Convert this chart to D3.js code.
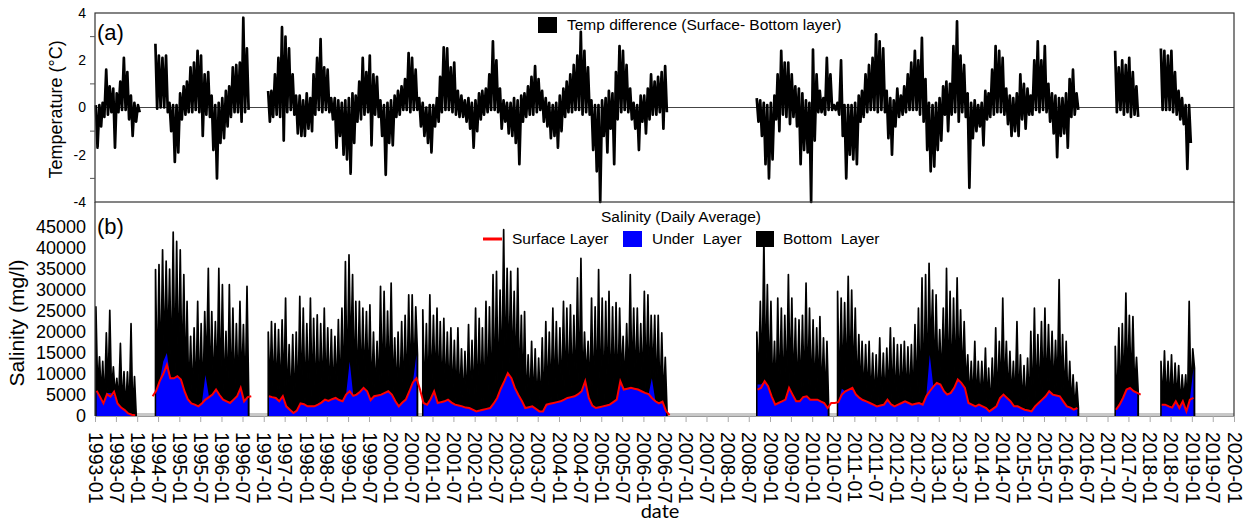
<!DOCTYPE html>
<html>
<head>
<meta charset="utf-8">
<script src="https://cdn.jsdelivr.net/npm/d3@7/dist/d3.min.js"></script>
<style>
  body { margin: 0; background: #fff; }
  text { font-family: "Liberation Sans", Arial, sans-serif; fill: #000; }
</style>
</head>
<body>
<div id="chart"></div>
<script>
// monthly values, index 0 = 1993-01 ... 312 = 2019-01 (null = no record)
// temp difference surface - bottom: monthly highest and lowest daily value (°C)
const tempHi = [
  0.1, 0.1, 0.2, 1.6, 0.9, 0.8, 0.6, 1.1, 2.1, 1.5, 0.5, 0.2, // 1993
  0.1, null, null, null, null, 2.7, 2.2, 2.1, 2.2, 0.2, 0.1, 0.1, // 1994
  0.6, 0.9, 1.1, 1.7, 1.9, 2.4, 2.2, 1.4, 1.5, 0.5, 0.1, 0.2, // 1995
  0.4, 0.7, 0.9, 1.7, 1.8, 1.9, 3.8, 2.5, null, null, null, null, // 1996
  null, 0.7, 0.7, 1.4, 2.1, 3.4, 3.0, 2.5, 1.4, 0.5, 0.5, 0.3, // 1997
  0.6, 0.4, 1.4, 2.1, 2.9, 1.7, 1.6, 0.4, 0.4, 0.3, 0.2, 0.3, // 1998
  0.4, 0.6, 0.5, 1.1, 2.1, 1.5, 2.2, 1.4, 1.3, 0.3, 0.1, 0.2, // 1999
  0.3, 0.5, 0.7, 0.9, 1.2, 2.3, 2.1, 1.6, 0.4, 0.2, 0.0, 0.1, // 2000
  0.1, 0.4, 1.3, 2.55, 2.5, 1.7, 1.9, 0.7, 0.5, 0.3, 0.4, 0.2, // 2001
  0.3, 0.6, 0.7, 0.8, 1.4, 2.8, 2.0, 0.8, 0.3, 0.2, 0.2, 0.4, // 2002
  0.3, 0.5, 0.6, 0.9, 1.3, 1.75, 1.2, 0.7, 0.4, 0.2, 0.1, 0.2, // 2003
  0.5, 0.8, 1.1, 1.4, 1.8, 2.2, 3.2, 2.4, 1.7, 0.3, 0.1, 0.1, // 2004
  0.3, 0.4, 0.7, 0.6, 1.5, 2.6, 2.4, 1.8, 0.8, 0.2, 0.1, 0.5, // 2005
  0.5, 0.8, 1.4, 1.1, 1.3, 1.5, 1.75, null, null, null, null, null, // 2006
  null, null, null, null, null, null, null, null, null, null, null, null, // 2007
  null, null, null, null, null, null, null, null, 0.4, 0.3, 0.2, 0.1, // 2008
  0.2, 0.5, 1.4, 2.4, 1.9, 1.9, 1.4, 0.9, 0.8, 0.6, 0.3, 0.2, // 2009
  2.45, 1.4, 0.7, 0.4, 2.1, 1.4, 0.1, 0.2, 2.0, 0.1, 0.1, 0.1, // 2010
  0.2, 0.5, 0.7, 1.4, 1.8, 2.1, 3.1, 2.8, 2.5, 0.7, 0.4, 0.3, // 2011
  0.8, 0.5, 0.9, 1.4, 1.9, 2.4, 2.0, 2.95, 1.2, 0.2, 0.1, 0.2, // 2012
  0.4, 0.9, 1.1, 1.0, 2.6, 3.65, 2.2, 1.8, 0.6, 0.2, 0.3, 0.1, // 2013
  0.2, 0.7, 0.6, 1.6, 2.6, 2.4, 2.1, 0.8, 0.5, 0.4, 0.6, 1.4, // 2014
  1.0, 0.8, 0.5, 2.0, 2.8, 2.0, 2.6, 1.0, 0.6, 0.5, 0.4, 0.4, // 2015
  0.6, 1.2, 1.6, 0.6, null, null, null, null, null, null, null, null, // 2016
  null, null, 2.4, 1.7, 2.0, 1.8, 2.1, 1.5, 0.9, null, null, null, // 2017
  null, null, null, 2.5, 2.4, 2.2, 2.4, 1.5, 0.7, 0.4, 0.1, 0.1, // 2018
  null // 2019
];
const tempLo = [
  -1.7, -0.8, -0.4, -0.3, -0.2, -1.7, -0.2, -0.1, -0.1, -0.5, -1.2, -0.6,
  -0.2, null, null, null, null, -0.05, 0.0, 0.0, -0.2, -1.0, -2.3, -1.9,
  -0.5, -0.3, -0.2, -0.2, -0.1, -0.2, -1.2, -0.3, -0.4, -1.8, -3.0, -1.5,
  -1.3, -0.8, -0.4, -0.2, -0.2, -0.6, -0.2, -0.1, null, null, null, null,
  null, -0.6, -0.4, -0.3, -0.4, -1.4, -0.2, -0.1, -0.3, -1.1, -1.2, -1.2,
  -0.9, -1.0, -0.3, -0.1, -0.2, -0.1, -0.2, -0.5, -1.7, -1.2, -2.0, -2.2,
  -2.8, -1.5, -0.6, -0.5, -0.3, -0.2, -1.6, -0.3, -0.4, -1.2, -2.85, -1.5,
  -1.6, -0.4, -0.3, -0.1, -0.1, -0.2, -0.1, -0.1, -0.8, -1.2, -1.5, -1.9,
  -0.8, -0.6, -0.2, -0.1, -0.1, -0.2, -0.3, -0.4, -0.4, -0.6, -0.9, -1.7,
  -1.0, -0.5, -0.3, -0.2, -0.1, -0.1, -0.2, -0.9, -0.6, -1.1, -1.2, -1.5,
  -2.4, -0.6, -0.4, -0.3, -0.3, -0.2, -0.1, -0.6, -0.8, -1.3, -1.2, -1.7,
  -1.0, -0.4, -0.2, -0.2, -0.1, -0.1, -0.3, -0.2, -0.3, -1.8, -2.7, -4.0,
  -1.2, -1.9, -0.9, -2.4, -0.5, -0.2, -0.1, -0.2, -0.5, -0.9, -1.8, -0.6,
  -1.1, -0.5, -0.3, -0.3, -0.2, -0.9, -0.2, null, null, null, null, null,
  null, null, null, null, null, null, null, null, null, null, null, null,
  null, null, null, null, null, null, null, null, -0.6, -1.2, -2.4, -3.0,
  -2.2, -0.5, -1.0, -0.3, -0.4, -0.7, -0.4, -0.8, -2.4, -1.8, -1.9, -4.0,
  -1.4, -0.2, -0.2, -0.3, -0.1, -0.1, -0.1, -0.3, -1.2, -3.0, -2.0, -2.2,
  -2.4, -0.6, -0.4, -0.2, -0.1, -0.1, -0.2, -0.1, -0.2, -1.3, -2.0, -0.8,
  -0.4, -0.3, -0.2, -0.1, -0.1, -0.1, -0.3, -0.6, -1.8, -2.7, -2.5, -1.8,
  -1.4, -0.3, -1.0, -0.3, -0.2, -0.6, -0.2, -0.4, -3.4, -1.3, -1.0, -0.8,
  -1.6, -0.5, -0.4, -0.3, -0.2, -0.2, -0.3, -0.7, -1.2, -1.0, -1.2, -0.5,
  -0.9, -0.3, -0.3, -0.1, -0.2, -0.1, -0.2, -0.6, -1.1, -2.1, -1.2, -1.1,
  -1.7, -0.4, -0.3, -0.1, null, null, null, null, null, null, null, null,
  null, null, -0.2, -0.1, -0.3, -0.2, -0.4, -0.3, -0.4, null, null, null,
  null, null, null, -0.1, -0.1, -0.1, -0.2, -0.3, -0.5, -0.7, -2.6, -1.5,
  null
];

// salinity (mg/l): bottom layer monthly peak, under layer and surface layer levels
const bottomLayer = [
  26000, 14100, 13000, 19800, 25200, 11700, 9000, 17300, 10600, 10500, 22000, 9400,
  null, null, null, null, null, 34900, 36100, 39600, 36900, 35000, 43800, 41600,
  39600, 33700, 27300, 19000, 21000, 27300, 22000, 24900, 35200, 24900, 22500, 35200,
  31300, 20200, 31300, 25700, 22000, 27300, 21800, 30900, null, null, null, null,
  null, 20000, 22500, 22000, 20600, 22900, 28100, 17000, 19400, 20000, 28500, 25700,
  22000, 28100, 23300, 24100, 22000, 25700, 21000, 20600, 19000, 23000, 25700, 36800,
  38400, 33700, 27300, 27300, 25700, 24900, 26500, 20000, 17800, 30900, 29700, 25000,
  31700, 18600, 20000, 22500, 24000, 28900, 28900, 26000, null, 25300, 22000, 28900,
  24000, 25700, 22500, 23300, 20000, 21000, 18000, 21000, 16000, 15400, 21800, 18000,
  25700, 23300, 21000, 27300, 26000, 33700, 34500, 30000, 44400, 35200, 34500, 29700,
  35200, 24000, 24900, 14600, 17800, 16000, 13800, 18600, 22500, 20000, 25700, 22500,
  21000, 27300, 25700, 26500, 24000, 32900, 37600, 20000, 17800, 28100, 26000, 34900,
  28100, 27300, 29700, 26000, 27000, 25700, 19000, 22000, 33700, 25700, 25700, 22000,
  29700, 28900, 24000, 24000, 24000, 19800, 14000, null, null, null, null, null,
  null, null, null, null, null, null, null, null, null, null, null, null,
  null, null, null, null, null, null, null, null, 20000, 27300, 42500, 31300,
  27300, 17800, 28100, 25700, 24000, 33700, 28100, 23300, 22900, 24000, 31700, 25700,
  22900, 21000, 23700, 18600, 17800, null, null, 29700, 28100, 27000, 33300, 30000,
  25700, 19400, 17800, 17000, 17800, 15000, 14600, 18600, 15000, 16200, 21000, 18600,
  17000, 17000, 17800, 16500, 17000, 21800, 25700, 32900, 33700, 36400, 30000, 28900,
  20600, 25700, 35200, 29700, 28100, 32900, 25300, 22500, 14600, 13000, 17800, 13000,
  13000, 16200, 11400, 13800, 21000, 17800, 28100, 17800, 15400, 13000, 22500, 14600,
  12000, 13800, 20200, 25700, 19400, 22500, 25700, 21800, 20200, 18000, 32500, 19400,
  17800, 13000, 9800, 8000, null, null, null, null, null, null, null, null,
  null, null, 16600, 21000, 22000, 29300, 24000, 23700, 14000, null, null, null,
  null, null, null, 13000, 15500, 13000, 14600, 12600, 12000, 9800, 9800, 27300,
  16000
];
const underLayer = [
  6000, 4500, 2500, 5500, 5500, 5000, 3000, 2000, 1300, 500, 200, 100,
  null, null, null, null, null, 6000, 8300, 13000, 15000, 9000, 9000, 9500,
  8700, 5900, 4000, 3000, 2700, 2300, 3000, 9800, 4500, 5100, 6300, 5000,
  3900, 3500, 3100, 3900, 4700, 6700, 3500, 4500, null, null, null, null,
  null, 4700, 4500, 4300, 3500, 4700, 2300, 1500, 700, 1300, 3000, 2800,
  2300, 2300, 2300, 2700, 3200, 3900, 3600, 4000, 4300, 3800, 3500, 5100,
  13000, 4800, 5100, 5800, 6700, 5900, 3800, 4700, 4900, 5100, 5500, 5900,
  5100, 3500, 2300, 3200, 3900, 5900, 8000, 14600, null, 3100, 2700, 4000,
  5900, 3100, 3300, 3500, 3900, 3200, 2700, 2500, 2300, 2000, 1900, 1500,
  1100, 1300, 1500, 1700, 1900, 3000, 4300, 6500, 8300, 10200, 9000, 6700,
  5000, 3500, 1900, 2100, 2300, 1700, 1100, 1100, 2700, 2900, 3100, 3300,
  3500, 3900, 4300, 4500, 4700, 5200, 5900, 8300, 4300, 2500, 1900, 2100,
  2300, 2500, 2700, 3300, 3900, 8300, 6300, 6500, 6700, 6500, 6300, 5900,
  5500, 5200, 9000, 3500, 3000, 3200, 1500, null, null, null, null, null,
  null, null, null, null, null, null, null, null, null, null, null, null,
  null, null, null, null, null, null, null, null, 7500, 7500, 8300, 7100,
  4700, 2700, 3100, 3500, 3900, 6700, 5100, 3500, 3500, 4500, 4700, 3900,
  3900, 3900, 3500, 3100, 1900, null, null, 3300, 6500, 5900, 6300, 6700,
  5100, 4300, 3800, 3500, 3100, 2700, 2300, 2500, 2700, 3900, 2800, 2300,
  2700, 3100, 3500, 3100, 2700, 2900, 3100, 2700, 4700, 14600, 7000, 7900,
  7500, 5900, 5100, 5500, 6700, 8700, 7900, 6700, 3100, 2700, 2300, 2700,
  2300, 1900, 1100, 1700, 2300, 4300, 5100, 4300, 3500, 2300, 2300, 1900,
  1500, 1300, 1100, 2300, 3100, 3900, 4700, 5900, 5100, 4900, 4700, 3500,
  2300, 2000, 1500, 1900, null, null, null, null, null, null, null, null,
  null, null, 1500, 2700, 4300, 6300, 6700, 5900, 5500, null, null, null,
  null, null, null, 2700, 2700, 2300, 2000, 3500, 1900, 3500, 1100, 3900,
  11400
];
const surfaceLayer = [
  6000, 4500, 3000, 5200, 4600, 5800, 3000, 2000, 1400, 600, 300, 200,
  null, null, null, null, 4700, 6000, 8300, 10000, 12200, 9000, 9000, 9500,
  8700, 5900, 4000, 3000, 2700, 2300, 3000, 3900, 4500, 5100, 6300, 5000,
  3900, 3500, 3100, 3900, 4700, 6700, 3500, 4500, 4700, null, null, null,
  null, 4700, 4500, 4300, 3500, 4700, 2300, 1500, 700, 1300, 3000, 2800,
  2300, 2300, 2300, 2700, 3200, 3900, 3600, 4000, 4300, 3800, 3500, 5100,
  5900, 4800, 5100, 5800, 6700, 5900, 3800, 4700, 4900, 5100, 5500, 5900,
  5100, 3500, 2300, 3200, 3900, 5900, 8000, 9000, 6300, 3100, 2700, 4000,
  5900, 3100, 3300, 3500, 3900, 3200, 2700, 2500, 2300, 2000, 1900, 1500,
  1100, 1300, 1500, 1700, 1900, 3000, 4300, 6500, 8300, 10200, 9000, 6700,
  5000, 3500, 1900, 2100, 2300, 1700, 1100, 1100, 2700, 2900, 3100, 3300,
  3500, 3900, 4300, 4500, 4700, 5200, 5900, 8300, 4300, 2500, 1900, 2100,
  2300, 2500, 2700, 3300, 3900, 8300, 6300, 6500, 6700, 6500, 6300, 5900,
  5500, 5200, 4300, 3500, 3000, 3400, 1200, 200, null, null, null, null,
  null, null, null, null, null, null, null, null, null, null, null, null,
  null, null, null, null, null, null, null, null, 6300, 6700, 8300, 7100,
  4700, 2700, 3100, 3500, 3900, 6700, 5100, 3500, 3500, 4500, 4700, 3900,
  3900, 3900, 3500, 3100, 1900, 3100, 3100, 3300, 5100, 5900, 6300, 6700,
  5100, 4300, 3800, 3500, 3100, 2700, 2300, 2500, 2700, 3900, 2800, 2300,
  2700, 3100, 3500, 3100, 2700, 2900, 3100, 2700, 4700, 5900, 7000, 7900,
  7500, 5900, 5100, 5500, 6700, 8700, 7900, 6700, 3100, 2700, 2300, 2700,
  2300, 1900, 1100, 1700, 2300, 4300, 5100, 4300, 3500, 2300, 2300, 1900,
  1500, 1300, 1100, 2300, 3100, 3900, 4700, 5900, 5100, 4900, 4700, 3500,
  2300, 2000, 1500, 1900, null, null, null, null, null, null, null, null,
  null, null, 1500, 2700, 4300, 6300, 6700, 5900, 5500, 5100, null, null,
  null, null, null, 2700, 2700, 2300, 2000, 3500, 1900, 3500, 1100, 3900,
  4300
];

const tempTicks = [4, 2, 0, -2, -4];
const tempMinorTicks = [3, 1, -1, -3];
const salinityTicks = [0, 5000, 10000, 15000, 20000, 25000, 30000, 35000, 40000, 45000];

const width = 1250;
const height = 524;
const left = 95;
const right = 1234;
const topA = 13;
const bottomA = 202;
const bottomB = 416;

const svg = d3.select('#chart').append('svg')
  .attr('width', width)
  .attr('height', height);

const x = d3.scaleTime()
  .domain([new Date(1993, 0, 1), new Date(2020, 0, 1)])
  .range([left, right]);
const yTemp = d3.scaleLinear().domain([-4, 4]).range([bottomA, topA]);
const ySal = d3.scaleLinear().domain([0, 51000]).range([bottomB, bottomA]);

const monthDay = (i, day) => new Date(1993, i, day);

// ---------- panel (a) ----------
svg.append('line')
  .attr('x1', left).attr('x2', right)
  .attr('y1', yTemp(0)).attr('y2', yTemp(0))
  .attr('stroke', '#444').attr('stroke-width', 1);

// swings between the monthly highs and lows drawn as a thick zigzag
const tempPoints = [];
tempHi.forEach((v, i) => {
  tempPoints.push({ d: monthDay(i, 8), v: v });
  tempPoints.push({ d: monthDay(i, 23), v: tempLo[i] });
});
const tempLine = d3.line()
  .defined(p => p.v != null)
  .x(p => x(p.d))
  .y(p => yTemp(p.v));
svg.append('path')
  .datum(tempPoints)
  .attr('d', tempLine)
  .attr('fill', 'none')
  .attr('stroke', '#000')
  .attr('stroke-width', 2.7)
  .attr('stroke-linejoin', 'round');

svg.append('rect')
  .attr('x', left).attr('y', topA)
  .attr('width', right - left).attr('height', bottomA - topA)
  .attr('fill', 'none').attr('stroke', '#333').attr('stroke-width', 1.2);

const axisA = svg.append('g');
axisA.selectAll('text.tick')
  .data(tempTicks).enter().append('text')
  .attr('x', 86).attr('y', d => yTemp(d)).attr('dy', '0.35em')
  .attr('text-anchor', 'end').style('font-size', '14px')
  .text(d => d);
axisA.selectAll('line.minor')
  .data(tempMinorTicks).enter().append('line')
  .attr('x1', 90).attr('x2', left)
  .attr('y1', d => yTemp(d)).attr('y2', d => yTemp(d))
  .attr('stroke', '#555');
svg.append('text')
  .attr('transform', `translate(62, ${(topA + bottomA) / 2 + 2}) rotate(-90)`)
  .attr('text-anchor', 'middle').style('font-size', '18px')
  .text('Temperature (°C)');
svg.append('text').attr('x', 97).attr('y', 40).style('font-size', '22px').text('(a)');

svg.append('rect').attr('x', 538).attr('y', 17).attr('width', 19).attr('height', 16).attr('fill', '#000');
svg.append('text').attr('x', 567).attr('y', 30).style('font-size', '15.5px')
  .text('Temp difference (Surface- Bottom layer)');

// ---------- panel (b) ----------
const salPoints = underLayer.map((v, i) => ({ d: monthDay(i, 15), under: v, surface: surfaceLayer[i] }));
const bottomPoints = [];
bottomLayer.forEach((v, i) => {
  bottomPoints.push({ d: monthDay(i, 9), v: v });
  bottomPoints.push({ d: monthDay(i, 24), v: v == null ? null : underLayer[i] });
});

svg.append('line')
  .attr('x1', left).attr('x2', right)
  .attr('y1', bottomB - 1.5).attr('y2', bottomB - 1.5)
  .attr('stroke', '#c8c8c8').attr('stroke-width', 3);

svg.append('path')
  .datum(bottomPoints)
  .attr('d', d3.area().defined(p => p.v != null)
    .x(p => x(p.d)).y0(ySal(0)).y1(p => ySal(p.v)))
  .attr('fill', '#000')
  .attr('stroke', '#000').attr('stroke-width', 1.7)
  .attr('stroke-linejoin', 'round');

svg.append('path')
  .datum(salPoints)
  .attr('d', d3.area().defined(p => p.under != null)
    .x(p => x(p.d)).y0(ySal(0)).y1(p => ySal(p.under)))
  .attr('fill', '#0000ff');

svg.append('path')
  .datum(salPoints)
  .attr('d', d3.line().defined(p => p.surface != null)
    .x(p => x(p.d)).y(p => ySal(p.surface)))
  .attr('fill', 'none').attr('stroke', '#ff0000').attr('stroke-width', 2);

svg.append('line').attr('x1', left).attr('x2', left).attr('y1', bottomA).attr('y2', bottomB)
  .attr('stroke', '#333').attr('stroke-width', 1.2);
svg.append('line').attr('x1', right).attr('x2', right).attr('y1', bottomA).attr('y2', bottomB)
  .attr('stroke', '#333').attr('stroke-width', 1.2);
svg.append('line').attr('x1', left).attr('x2', right).attr('y1', bottomB + 0.5).attr('y2', bottomB + 0.5)
  .attr('stroke', '#999').attr('stroke-width', 1);

const xAxis = d3.axisBottom(x)
  .tickValues(d3.timeMonth.every(6).range(new Date(1993, 0, 1), new Date(2020, 0, 2)))
  .tickFormat(d3.timeFormat('%Y-%m'))
  .tickSize(6);
const gx = svg.append('g').attr('transform', `translate(0, ${bottomB})`).call(xAxis);
gx.select('.domain').remove();
gx.selectAll('.tick line').attr('stroke', '#aaa');
gx.selectAll('.tick text')
  .attr('transform', 'rotate(90)')
  .attr('x', 16).attr('y', 0).attr('dy', '0.35em')
  .style('text-anchor', 'start')
  .style('font-family', '"Liberation Sans", Arial, sans-serif')
  .style('font-size', '19.5px')
  .attr('fill', '#000');

svg.selectAll('text.saltick')
  .data(salinityTicks).enter().append('text')
  .attr('x', 86).attr('y', d => ySal(d)).attr('dy', '0.35em')
  .attr('text-anchor', 'end').style('font-size', '18px')
  .text(d => d);
svg.append('text')
  .attr('transform', `translate(24, 323) rotate(-90)`)
  .attr('text-anchor', 'middle').style('font-size', '21px')
  .text('Salinity (mg/l)');
svg.append('text').attr('x', 97).attr('y', 234).style('font-size', '22px').text('(b)');
svg.append('text').attr('x', 681).attr('y', 222).attr('text-anchor', 'middle')
  .style('font-size', '15.5px').text('Salinity (Daily Average)');

svg.append('line').attr('x1', 483).attr('x2', 502).attr('y1', 239).attr('y2', 239)
  .attr('stroke', '#ff0000').attr('stroke-width', 3);
svg.append('text').attr('x', 512).attr('y', 244).style('font-size', '15.5px').text('Surface Layer');
svg.append('rect').attr('x', 623).attr('y', 231).attr('width', 19).attr('height', 16).attr('fill', '#0000ff');
svg.append('text').attr('x', 652).attr('y', 244).style('font-size', '15.5px')
  .style('white-space', 'pre').text('Under  Layer');
svg.append('rect').attr('x', 756).attr('y', 231).attr('width', 18).attr('height', 16).attr('fill', '#000');
svg.append('text').attr('x', 783).attr('y', 244).style('font-size', '15.5px')
  .style('white-space', 'pre').text('Bottom  Layer');

svg.append('text').attr('x', 660).attr('y', 518).attr('text-anchor', 'middle')
  .style('font-family', 'Lato, sans-serif').style('font-size', '20px').text('date');
</script>
</body>
</html>
